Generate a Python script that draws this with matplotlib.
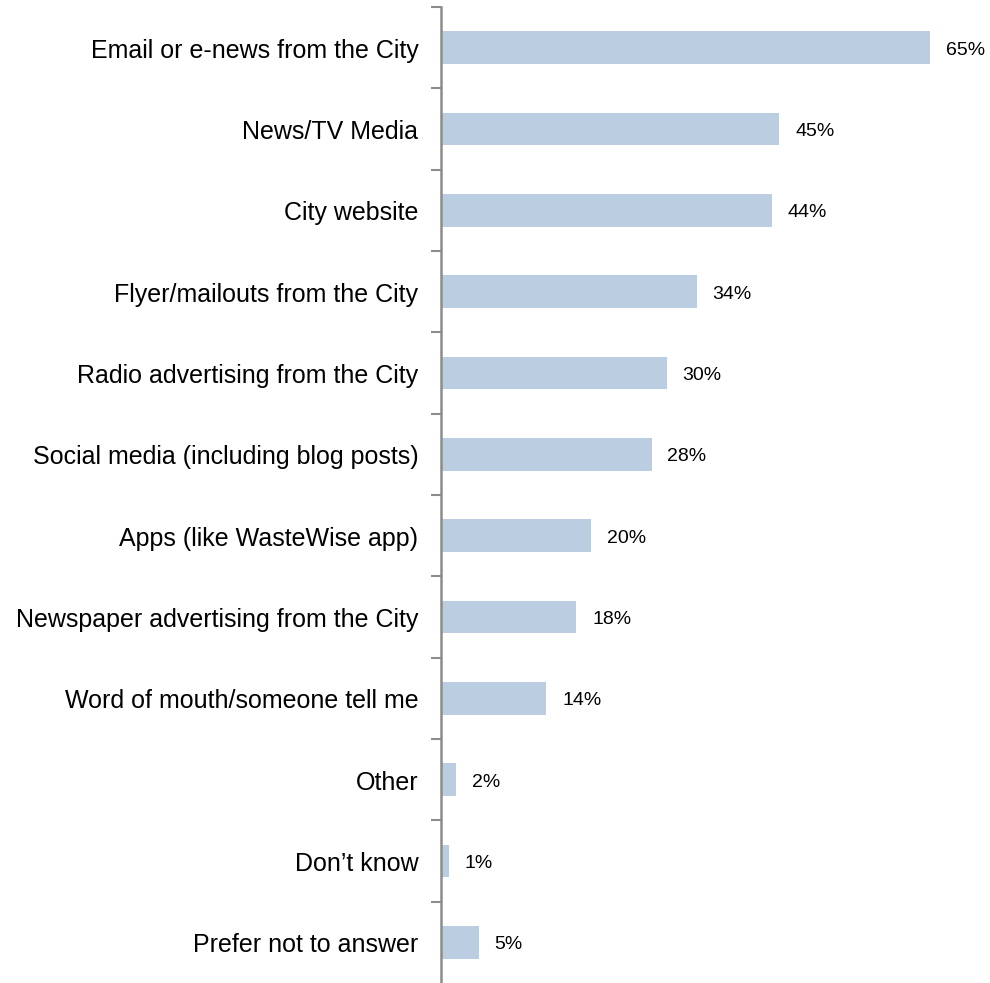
import numpy as np
import matplotlib.pyplot as plt

categories = [
    "Email or e-news from the City",
    "News/TV Media",
    "City website",
    "Flyer/mailouts from the City",
    "Radio advertising from the City",
    "Social media (including blog posts)",
    "Apps (like WasteWise app)",
    "Newspaper advertising from the City",
    "Word of mouth/someone tell me",
    "Other",
    "Don\u2019t know",
    "Prefer not to answer",
]
values = [65, 45, 44, 34, 30, 28, 20, 18, 14, 2, 1, 5]

plt.rcParams['font.family'] = ['Liberation Sans', 'DejaVu Sans']

fig = plt.figure(figsize=(9.9, 9.83), dpi=100)
ax = fig.add_axes([441 / 990, 0, 1 - 441 / 990, 1 - 7 / 983])

y = np.arange(len(categories))
ax.barh(y, values, height=0.4, color='#BBCDE0')
ax.set_ylim(len(categories) - 0.5, -0.5)
ax.set_xlim(0, 73)

for yi, v in zip(y, values):
    ax.text(v + 2.1, yi + 0.03, f"{v}%", va='center', ha='left', fontsize=14, color='black')

# category labels, drawn as text so they can sit a little lower
ax.set_yticks([])
for yi, c in zip(y, categories):
    ax.text(-3.0, yi + 0.035, c, va='center', ha='right', fontsize=18, color='black')

# boundary ticks
ax.set_yticks(np.arange(-0.5, len(categories) - 1, 1), minor=True)
ax.tick_params(axis='y', which='minor', length=7, width=1.5, color='#8c8c8c', direction='out')

ax.set_xticks([])
for s in ['top', 'right', 'bottom']:
    ax.spines[s].set_visible(False)
ax.spines['left'].set_color('#8c8c8c')
ax.spines['left'].set_linewidth(1.8)

fig.savefig('out.png', dpi=100)
